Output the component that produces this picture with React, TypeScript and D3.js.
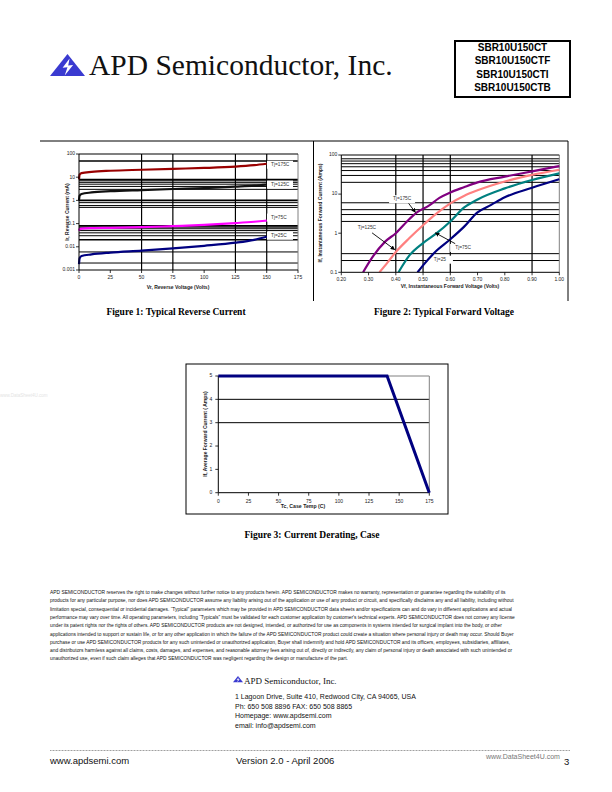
import React from "react";
import * as d3 from "d3";

// ---------- Figure 1: Typical Reverse Current ----------
const fig1Volts = [0, 0.5, 2, 10, 25, 50, 75, 100, 125, 140, 150];
const irTj175 = [8, 13, 15, 17, 19, 21, 23, 25, 28.5, 33, 38];
const irTj125 = [1.0, 1.6, 1.9, 2.2, 2.5, 2.8, 3.1, 3.4, 3.9, 4.3, 4.8];
const irTj75 = [0.05, 0.058, 0.061, 0.064, 0.066, 0.07, 0.078, 0.088, 0.105, 0.12, 0.135];
const irTj25 = [0.0018, 0.0032, 0.004, 0.0047, 0.0056, 0.0068, 0.0085, 0.011, 0.015, 0.02, 0.027];
const fig1SeriesLabels = ["Tj=175C", "Tj=125C", "Tj=75C", "Tj=25C"];
const fig1XTicks = [0, 25, 50, 75, 100, 125, 150, 175];
const fig1YTicks = [0.001, 0.01, 0.1, 1, 10, 100];
const fig1YTickLabels = ["0.001", "0.01", "0.1", "1", "10", "100"];
const fig1HGrid = [50, 8, 7, 6, 5, 4, 3, 1, 0.8, 0.6, 0.5, 0.08, 0.07, 0.06, 0.05, 0.04, 0.03, 0.02, 0.006, 0.002];
const fig1VGrid = [50, 75, 125, 150];

// ---------- Figure 2: Typical Forward Voltage ----------
const vfTj175 = [0.28, 0.31, 0.36, 0.40, 0.45, 0.48, 0.52, 0.56, 0.60, 0.65, 0.70, 0.80, 0.90, 1.00];
const ifTj175 = [0.1, 0.22, 0.6, 1.0, 2.3, 3.5, 5, 8, 11, 15, 20, 28, 38, 52];
const vfTj125 = [0.34, 0.37, 0.40, 0.45, 0.50, 0.55, 0.60, 0.65, 0.70, 0.80, 0.90, 1.00];
const ifTj125 = [0.1, 0.18, 0.33, 0.75, 1.6, 3.2, 5.8, 9, 12.5, 21, 31, 42];
const vfTj75 = [0.41, 0.45, 0.50, 0.55, 0.60, 0.65, 0.70, 0.80, 0.90, 1.00];
const ifTj75 = [0.1, 0.27, 0.56, 1.0, 2.0, 4.5, 7.3, 14, 23, 34];
const vfTj25 = [0.48, 0.50, 0.55, 0.60, 0.65, 0.70, 0.75, 0.80, 0.90, 1.00];
const ifTj25 = [0.1, 0.15, 0.36, 0.7, 1.45, 3.4, 5.3, 8.3, 14.5, 24];
const fig2SeriesLabels = ["Tj=175C", "Tj=125C", "Tj=75C", "Tj=25"];
const fig2XTicks = [0.2, 0.3, 0.4, 0.5, 0.6, 0.7, 0.8, 0.9, 1.0];
const fig2YTicks = [0.1, 1, 10, 100];
const fig2YTickLabels = ["0.1", "1", "10", "100"];
const fig2HGrid = [80, 70, 60, 50, 40, 30, 20, 6, 4, 3, 2, 0.3, 0.2];
const fig2VGrid = [0.4, 0.5, 0.6, 0.9];

// ---------- Figure 3: Current Derating, Case ----------
const caseTemp = [0, 140, 175];
const avgCurrent = [5, 5, 0];
const fig3XTicks = [0, 25, 50, 75, 100, 125, 150, 175];
const fig3YTicks = [0, 1, 2, 3, 4, 5];
const fig3HGrid = [3, 4];

const partNumbers = ["SBR10U150CT", "SBR10U150CTF", "SBR10U150CTI", "SBR10U150CTB"];

const disclaimer = [
  "APD SEMICONDUCTOR reserves the right to make changes without further notice to any products herein. APD SEMICONDUCTOR makes no warranty, representation or guarantee regarding the suitability of its",
  "products for any particular purpose, nor does APD SEMICONDUCTOR assume any liability arising out of the application or use of any product or circuit, and specifically disclaims any and all liability, including without",
  "limitation special, consequential or incidental damages. \u201CTypical\u201D parameters which may be provided in APD SEMICONDUCTOR data sheets and/or specifications can and do vary in different applications and actual",
  "performance may vary over time. All operating parameters, including \u201CTypicals\u201D must be validated for each customer application by customer's technical experts. APD SEMICONDUCTOR does not convey any license",
  "under its patent rights nor the rights of others. APD SEMICONDUCTOR products are not designed, intended, or authorized for use as components in systems intended for surgical implant into the body, or other",
  "applications intended to support or sustain life, or for any other application in which the failure of the APD SEMICONDUCTOR product could create a situation where personal injury or death may occur. Should Buyer",
  "purchase or use APD SEMICONDUCTOR products for any such unintended or unauthorized application, Buyer shall indemnify and hold APD SEMICONDUCTOR and its officers, employees, subsidiaries, affiliates,",
  "and distributors harmless against all claims, costs, damages, and expenses, and reasonable attorney fees arising out of, directly or indirectly, any claim of personal injury or death associated with such unintended or",
  "unauthorized use, even if such claim alleges that APD SEMICONDUCTOR was negligent regarding the design or manufacture of the part.",
];

const addressLines = [
  "1 Lagoon Drive, Suite 410, Redwood City, CA 94065, USA",
  "Ph: 650 508 8896 FAX: 650 508 8865",
  "Homepage: www.apdsemi.com",
  "email: info@apdsemi.com",
];

const SANS = "'Liberation Sans', Arial, sans-serif";
const SERIF = "'Liberation Serif', 'Times New Roman', serif";

function Logo({ x, y, s }: { x: number; y: number; s: number }) {
  const h = s * 0.63;
  const tri = `M${x},${y + h} L${x + s / 2},${y} L${x + s},${y + h} Z`;
  const bolt = `M${x + s * 0.56},${y + h * 0.2} L${x + s * 0.36},${y + h * 0.62} L${x + s * 0.5},${y + h * 0.6} L${x + s * 0.42},${y + h * 0.98} L${x + s * 0.66},${y + h * 0.5} L${x + s * 0.52},${y + h * 0.52} Z`;
  return (
    <g>
      <path d={tri} fill="#3a3ad0" />
      <path d={bolt} fill="#ffffff" />
    </g>
  );
}

function Figure1() {
  const x = d3.scaleLinear().domain([0, 175]).range([79, 298]);
  const y = d3.scaleLog().domain([0.001, 100]).range([270, 154]);
  const series = [irTj175, irTj125, irTj75, irTj25];
  const colors = ["#990000", "#111111", "#ff00ff", "#000080"];
  const labelDy = [1, 0, -3, -1];
  const line = d3
    .line<number>()
    .x((_, i) => x(fig1Volts[i]))
    .y((d) => y(d))
    .curve(d3.curveMonotoneX);
  const thick = new Set([50, 8, 1, 0.08, 0.02]);
  return (
    <g>
      {fig1HGrid.map((g) => (
        <line key={"h" + g} x1={x(0)} x2={x(175)} y1={y(g)} y2={y(g)} stroke="#000" strokeWidth={thick.has(g) ? 1.6 : 1} />
      ))}
      {fig1VGrid.map((g) => (
        <line key={"v" + g} x1={x(g)} x2={x(g)} y1={y(100)} y2={y(0.001)} stroke="#000" strokeWidth={1.2} />
      ))}
      <line x1={x(175)} x2={x(175)} y1={y(100)} y2={y(0.001)} stroke="#808080" strokeWidth={1} />
      <line x1={x(0)} x2={x(175)} y1={y(100)} y2={y(100)} stroke="#000" strokeWidth={1.2} />
      {series.map((s, i) => (
        <rect key={"lb" + i} x={267} y={y(s[s.length - 1]) + labelDy[i] - 4} width={26} height={8} fill="#fff" />
      ))}
      {series.map((s, i) => (
        <path key={"s" + i} d={line(s) || ""} fill="none" stroke={colors[i]} strokeWidth={2.2} />
      ))}
      {series.map((s, i) => (
        <text key={"t" + i} x={271} y={y(s[s.length - 1]) + labelDy[i]} dominantBaseline="middle" fontSize={4.8} fontFamily={SANS} fill="#333">
          {fig1SeriesLabels[i]}
        </text>
      ))}
      <line x1={x(0)} x2={x(0)} y1={y(100)} y2={y(0.001)} stroke="#000" strokeWidth={1} />
      <line x1={x(0)} x2={x(175)} y1={y(0.001)} y2={y(0.001)} stroke="#000" strokeWidth={1} />
      {fig1YTicks.map((t, i) => (
        <g key={"yt" + t}>
          <line x1={x(0) - 3} x2={x(0)} y1={y(t)} y2={y(t)} stroke="#000" strokeWidth={0.8} />
          <text x={x(0) - 4} y={y(t)} textAnchor="end" dominantBaseline="middle" fontSize={5} fontFamily={SANS} fill="#222">
            {fig1YTickLabels[i]}
          </text>
        </g>
      ))}
      {fig1XTicks.map((t) => (
        <g key={"xt" + t}>
          <line x1={x(t)} x2={x(t)} y1={y(0.001)} y2={y(0.001) + 3} stroke="#000" strokeWidth={0.8} />
          <text x={x(t)} y={y(0.001) + 9} textAnchor="middle" fontSize={5} fontFamily={SANS} fill="#222">
            {t}
          </text>
        </g>
      ))}
      <text x={178} y={289} textAnchor="middle" fontSize={5} fontWeight="bold" fontFamily={SANS} fill="#222">
        Vr, Reverse Voltage (Volts)
      </text>
      <text transform="translate(69,212) rotate(-90)" textAnchor="middle" fontSize={5} fontWeight="bold" fontFamily={SANS} fill="#222">
        Ir, Reverse Current (mA)
      </text>
    </g>
  );
}

function Figure2() {
  const x = d3.scaleLinear().domain([0.2, 1.0]).range([341.3, 559.3]);
  const y = d3.scaleLog().domain([0.1, 100]).range([272.3, 155]);
  const series = [
    { v: vfTj175, a: ifTj175, c: "#800080" },
    { v: vfTj125, a: ifTj125, c: "#ff8080" },
    { v: vfTj75, a: ifTj75, c: "#008080" },
    { v: vfTj25, a: ifTj25, c: "#000080" },
  ];
  // annotation anchors in data coordinates: [labelV, labelA, fromV, fromA, toV, toA]
  const ann = [
    [0.423, 7.4, 0.447, 5.8, 0.472, 3.4],
    [0.294, 1.4, 0.313, 1.02, 0.396, 0.38],
    [0.647, 0.42, 0.618, 0.54, 0.545, 1.02],
    [0.562, 0.21, 0, 0, 0, 0],
  ];
  return (
    <g>
      <defs>
        <marker id="arr" viewBox="0 0 10 10" refX="9" refY="5" markerWidth="5" markerHeight="5" orient="auto">
          <path d="M0,0 L10,5 L0,10 Z" fill="#000" />
        </marker>
        <clipPath id="clip2">
          <rect x={341.3} y={150} width={220} height={122.3} />
        </clipPath>
      </defs>
      {fig2HGrid.map((g) => (
        <line key={"h" + g} x1={x(0.2)} x2={x(1)} y1={y(g)} y2={y(g)} stroke="#000" strokeWidth={1} />
      ))}
      {fig2VGrid.map((g) => (
        <line key={"v" + g} x1={x(g)} x2={x(g)} y1={y(100)} y2={y(0.1)} stroke="#000" strokeWidth={1.2} />
      ))}
      <line x1={x(1)} x2={x(1)} y1={y(100)} y2={y(0.1)} stroke="#808080" strokeWidth={1} />
      <line x1={x(0.2)} x2={x(1)} y1={y(100)} y2={y(100)} stroke="#000" strokeWidth={1.2} />
      {ann.map((a, i) => (
        <rect key={"lb" + i} x={x(a[0]) - 13} y={y(a[1]) - 4} width={26} height={8} fill="#fff" />
      ))}
      <g clipPath="url(#clip2)">
        {series.map((s, i) => {
          const line = d3
            .line<number>()
            .x((_, j) => x(s.v[j]))
            .y((d) => y(d))
            .curve(d3.curveMonotoneX);
          return <path key={"s" + i} d={line(s.a) || ""} fill="none" stroke={s.c} strokeWidth={2.2} />;
        })}
      </g>
      {ann.map((a, i) => (
        <g key={"a" + i}>
          <text x={x(a[0])} y={y(a[1])} textAnchor="middle" dominantBaseline="middle" fontSize={4.8} fontFamily={SANS} fill="#333">
            {fig2SeriesLabels[i]}
          </text>
          {a[2] > 0 && (
            <line x1={x(a[2])} y1={y(a[3])} x2={x(a[4])} y2={y(a[5])} stroke="#000" strokeWidth={0.9} markerEnd="url(#arr)" />
          )}
        </g>
      ))}
      <line x1={x(0.2)} x2={x(0.2)} y1={y(100)} y2={y(0.1)} stroke="#000" strokeWidth={1} />
      <line x1={x(0.2)} x2={x(1)} y1={y(0.1)} y2={y(0.1)} stroke="#000" strokeWidth={1} />
      {fig2YTicks.map((t, i) => (
        <g key={"yt" + t}>
          <line x1={x(0.2) - 3} x2={x(0.2)} y1={y(t)} y2={y(t)} stroke="#000" strokeWidth={0.8} />
          <text x={x(0.2) - 4} y={y(t)} textAnchor="end" dominantBaseline="middle" fontSize={5} fontFamily={SANS} fill="#222">
            {fig2YTickLabels[i]}
          </text>
        </g>
      ))}
      {fig2XTicks.map((t) => (
        <g key={"xt" + t}>
          <line x1={x(t)} x2={x(t)} y1={y(0.1)} y2={y(0.1) + 3} stroke="#000" strokeWidth={0.8} />
          <text x={x(t)} y={y(0.1) + 9} textAnchor="middle" fontSize={5} fontFamily={SANS} fill="#222">
            {d3.format(".2f")(t)}
          </text>
        </g>
      ))}
      <text x={450} y={288} textAnchor="middle" fontSize={5} fontWeight="bold" fontFamily={SANS} fill="#222">
        Vf, Instantaneous Forward  Voltage (Volts)
      </text>
      <text transform="translate(322,213) rotate(-90)" textAnchor="middle" fontSize={5} fontWeight="bold" fontFamily={SANS} fill="#222">
        If, Instantaneous Forward Current (Amps)
      </text>
    </g>
  );
}

function Figure3() {
  const x = d3.scaleLinear().domain([0, 175]).range([218.3, 429.3]);
  const y = d3.scaleLinear().domain([0, 5]).range([492.7, 376]);
  const line = d3
    .line<number>()
    .x((_, i) => x(caseTemp[i]))
    .y((d) => y(d));
  return (
    <g>
      <rect x={186} y={364} width={262} height={150} fill="none" stroke="#000" strokeWidth={1} />
      {fig3HGrid.map((g) => (
        <line key={"h" + g} x1={x(0)} x2={x(175)} y1={y(g)} y2={y(g)} stroke="#000" strokeWidth={1} />
      ))}
      <line x1={x(175)} x2={x(175)} y1={y(5)} y2={y(0)} stroke="#808080" strokeWidth={1} />
      <line x1={x(0)} x2={x(175)} y1={y(5)} y2={y(5)} stroke="#808080" strokeWidth={1} />
      <line x1={x(0)} x2={x(0)} y1={y(5)} y2={y(0)} stroke="#000" strokeWidth={1} />
      <line x1={x(0)} x2={x(175)} y1={y(0)} y2={y(0)} stroke="#000" strokeWidth={1} />
      <path d={line(avgCurrent) || ""} fill="none" stroke="#000080" strokeWidth={3} />
      {fig3YTicks.map((t) => (
        <g key={"yt" + t}>
          <line x1={x(0) - 3} x2={x(0)} y1={y(t)} y2={y(t)} stroke="#000" strokeWidth={0.8} />
          <text x={x(0) - 6} y={y(t)} textAnchor="end" dominantBaseline="middle" fontSize={5} fontFamily={SANS} fill="#222">
            {t}
          </text>
        </g>
      ))}
      {fig3XTicks.map((t) => (
        <g key={"xt" + t}>
          <line x1={x(t)} x2={x(t)} y1={y(0)} y2={y(0) + 3} stroke="#000" strokeWidth={0.8} />
          <text x={x(t)} y={y(0) + 10} textAnchor="middle" fontSize={5} fontFamily={SANS} fill="#222">
            {t}
          </text>
        </g>
      ))}
      <text x={303} y={508} textAnchor="middle" fontSize={5.2} fontWeight="bold" fontFamily={SANS} fill="#222">
        Tc, Case Temp (C)
      </text>
      <text transform="translate(207,434) rotate(-90)" textAnchor="middle" fontSize={5} fontWeight="bold" fontFamily={SANS} fill="#222">
        If, Average Forward Current ( Amps)
      </text>
    </g>
  );
}

export default function App() {
  return (
    <div style={{ position: "absolute", left: 0, top: 0 }}>
      <svg width={612} height={792} viewBox="0 0 612 792" style={{ display: "block", background: "#fff" }}>
        <rect x={0} y={0} width={612} height={792} fill="#fff" />
        {/* header */}
        <Logo x={50} y={54} s={35} />
        <text x={89} y={75} fontSize={29.5} fontFamily={SERIF} fill="#111">
          APD Semiconductor, Inc.
        </text>
        <rect x={455} y={41} width={115} height={56} fill="none" stroke="#000" strokeWidth={2} />
        {partNumbers.map((p, i) => (
          <text key={p} x={512.5} y={51 + i * 13.4} textAnchor="middle" fontSize={10} fontWeight="bold" fontFamily={SANS} fill="#000">
            {p}
          </text>
        ))}

        {/* figure frames */}
        <line x1={40} x2={568} y1={141} y2={141} stroke="#000" strokeWidth={1} />
        <line x1={313.5} x2={313.5} y1={141} y2={301} stroke="#000" strokeWidth={1} />
        <line x1={568} x2={568} y1={141} y2={301} stroke="#000" strokeWidth={1} />

        <Figure1 />
        <Figure2 />
        <Figure3 />

        <text x={176} y={315} textAnchor="middle" fontSize={9.5} fontWeight="bold" fontFamily={SERIF} fill="#000">
          Figure 1: Typical Reverse Current
        </text>
        <text x={444} y={315} textAnchor="middle" fontSize={9.5} fontWeight="bold" fontFamily={SERIF} fill="#000">
          Figure 2: Typical Forward Voltage
        </text>
        <text x={312} y={538} textAnchor="middle" fontSize={9.5} fontWeight="bold" fontFamily={SERIF} fill="#000">
          Figure 3: Current Derating, Case
        </text>

        <text x={0} y={397} fontSize={4.5} fontFamily={SANS} fill="#e4e4e4">
          www.DataSheet4U.com
        </text>

        {/* disclaimer */}
        {disclaimer.map((l, i) => (
          <text key={i} x={50} y={594 + i * 8.3} fontSize={4.9} fontFamily={SANS} fill="#111">
            {l}
          </text>
        ))}

        {/* address block */}
        <Logo x={233} y={676} s={10} />
        <text x={244} y={684} fontSize={9} fontFamily={SERIF} fill="#111">
          APD Semiconductor, Inc.
        </text>
        {addressLines.map((l, i) => (
          <text key={l} x={235} y={699 + i * 9.5} fontSize={7} fontFamily={SANS} fill="#111">
            {l}
          </text>
        ))}

        {/* footer */}
        <line x1={50} x2={570} y1={750.5} y2={750.5} stroke="#888" strokeWidth={0.8} strokeDasharray="1,0.5" />
        <text x={50} y={764} fontSize={9.5} fontFamily={SANS} fill="#111">
          www.apdsemi.com
        </text>
        <text x={236} y={764} fontSize={9.5} fontFamily={SANS} fill="#111">
          Version 2.0 - April 2006
        </text>
        <text x={486} y={759} fontSize={7} fontFamily={SANS} fill="#777">
          www.DataSheet4U.com
        </text>
        <text x={564} y={765} fontSize={9.5} fontFamily={SANS} fill="#111">
          3
        </text>
      </svg>
    </div>
  );
}
